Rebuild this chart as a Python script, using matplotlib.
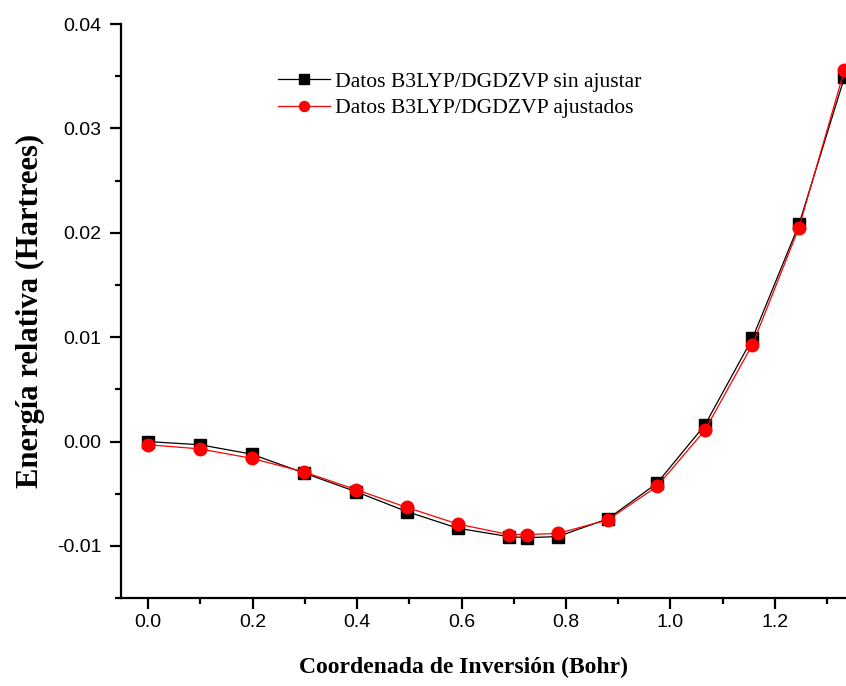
import matplotlib.pyplot as plt
from matplotlib import font_manager
from matplotlib.ticker import MultipleLocator

# inversion coordinate (Bohr) and relative energies (Hartrees)
coord = [0.0, 0.099, 0.198, 0.298, 0.398, 0.495, 0.593, 0.690, 0.726, 0.784,
         0.880, 0.974, 1.066, 1.157, 1.246, 1.333]
e_raw = [0.0000, -0.0003, -0.0012, -0.0030, -0.0048, -0.0067, -0.0083, -0.0091,
         -0.0092, -0.0091, -0.0074, -0.0040, 0.0016, 0.0099, 0.0208, 0.0349]
e_fit = [-0.0003, -0.0007, -0.0016, -0.0029, -0.0046, -0.0063, -0.0079, -0.0089,
         -0.0089, -0.0088, -0.0075, -0.0043, 0.0011, 0.0093, 0.0205, 0.0356]

names = {f.name for f in font_manager.fontManager.ttflist}
tick_font = 'Liberation Sans Narrow' if 'Liberation Sans Narrow' in names else 'Liberation Sans'

fig = plt.figure(figsize=(8.46, 6.86), dpi=100)
ax = fig.add_axes([0.143, 0.128, 0.857, 0.837])

ax.plot(coord, e_raw, color='black', lw=0.9, marker='s', ms=8.5,
        mfc='black', mec='black', clip_on=False, zorder=3,
        label='Datos B3LYP/DGDZVP sin ajustar')
ax.plot(coord, e_fit, color='red', lw=0.9, marker='o', ms=9,
        mfc='red', mec='red', clip_on=False, zorder=4,
        label='Datos B3LYP/DGDZVP ajustados')

ax.set_xlim(-0.052, 1.336)
ax.set_ylim(-0.015, 0.04)
ax.xaxis.set_major_locator(MultipleLocator(0.2))
ax.xaxis.set_minor_locator(MultipleLocator(0.1))
ax.yaxis.set_major_locator(MultipleLocator(0.01))
ax.yaxis.set_minor_locator(MultipleLocator(0.005))
ax.xaxis.set_major_formatter(lambda v, p: f'{v:.1f}')
ax.yaxis.set_major_formatter(lambda v, p: f'{v:.2f}')

for s in ('top', 'right'):
    ax.spines[s].set_visible(False)
for s in ('left', 'bottom'):
    ax.spines[s].set_linewidth(1.6)

ax.tick_params(which='major', direction='out', length=8, width=1.6, labelsize=14)
ax.tick_params(which='minor', direction='out', length=4, width=1.6)
ax.tick_params(axis='x', which='major', pad=3.5)
ax.tick_params(axis='y', which='major', pad=6)
for lab in ax.get_xticklabels() + ax.get_yticklabels():
    lab.set_fontfamily(tick_font)

ax.set_xlabel('Coordenada de Inversión (Bohr)', family='Liberation Serif',
              fontweight='bold', fontsize=17)
ax.set_ylabel('Energía relativa (Hartrees)', family='Liberation Serif',
              fontweight='bold', fontsize=22)
ax.xaxis.set_label_coords(0.473, -0.102)
ax.yaxis.set_label_coords(-0.105, 0.50)

ax.legend(loc='upper left', bbox_to_anchor=(0.329, 0.896), bbox_transform=fig.transFigure,
          frameon=False, borderpad=0, borderaxespad=0, handlelength=2.4,
          labelspacing=0.3, handletextpad=0.2, markerscale=0.8,
          prop={'family': 'Liberation Serif', 'size': 15.6})

fig.savefig('out.png', dpi=100)
